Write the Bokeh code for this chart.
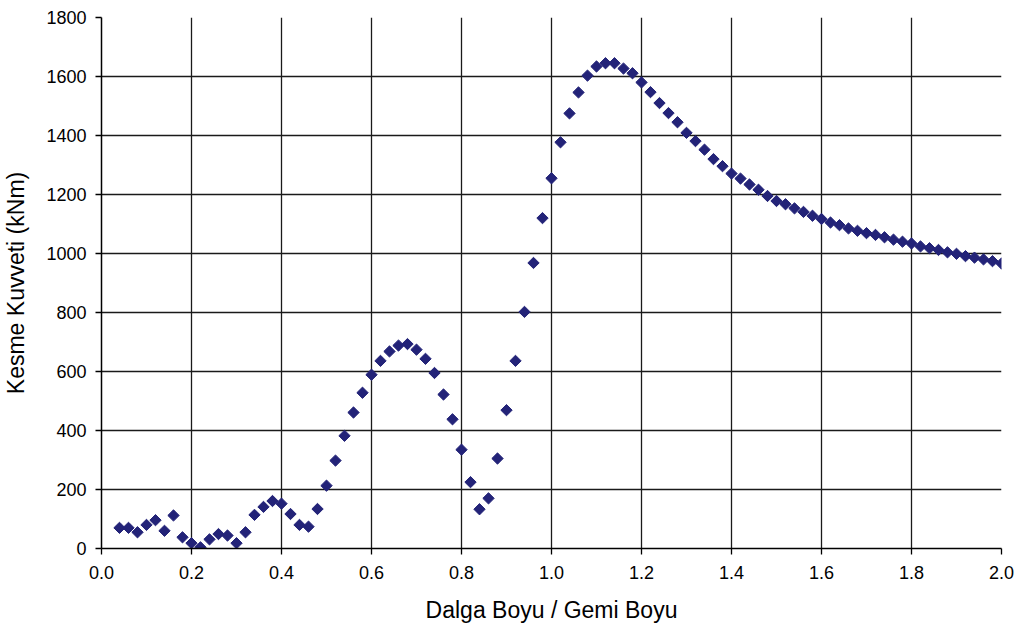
import numpy as np
from bokeh.plotting import figure
from bokeh.models import FixedTicker, PrintfTickFormatter, Range1d
from bokeh.embed import file_html
from bokeh.resources import INLINE

# Sample points (wave length / ship length)
x_ratio = np.round(np.arange(0.04, 2.0001, 0.02), 2)

# Shear force values
shear_force = [
    70, 70, 55, 80, 96, 60, 112, 38, 18, 4,
    31, 49, 44, 18, 55, 114, 141, 161, 152, 117,
    80, 74, 134, 213, 298, 382, 461, 528,
    589, 636, 668, 688, 693, 674, 643, 595, 522, 438,
    335, 225, 133, 170, 305, 469, 636, 802,
    968, 1120, 1255, 1377, 1475, 1546, 1603, 1634, 1645, 1645,
    1627, 1611, 1580, 1547, 1510, 1476, 1445, 1409, 1381, 1352,
    1320, 1296, 1271,
    1254, 1234, 1216, 1195, 1178, 1167, 1153, 1141, 1128, 1117,
    1105, 1096, 1085, 1077, 1069, 1063, 1055, 1047, 1040, 1034,
    1024, 1018, 1012, 1004, 999, 991, 986, 980, 974, 966,
]

x_ticks = [0.0, 0.2, 0.4, 0.6, 0.8, 1.0, 1.2, 1.4, 1.6, 1.8, 2.0]
y_ticks = [0, 200, 400, 600, 800, 1000, 1200, 1400, 1600, 1800]

FONT = "Liberation Sans"

p = figure(width=1025, height=632, output_backend="svg", toolbar_location=None,
           x_range=Range1d(0, 2.0), y_range=Range1d(0, 1800),
           min_border_left=101, min_border_right=24, min_border_top=17,
           min_border_bottom=84)
p.outline_line_color = None
p.background_fill_color = "white"
p.border_fill_color = "white"

p.scatter(x_ratio, shear_force, marker="square", angle=np.pi / 4, size=8,
          fill_color="#232378", line_color="#232378")

for ax in (p.xaxis[0], p.yaxis[0]):
    ax.axis_line_color = "black"
    ax.axis_line_width = 1.5
    ax.major_tick_line_color = "black"
    ax.major_tick_line_width = 1.3
    ax.major_tick_out = 6
    ax.major_tick_in = 0
    ax.minor_tick_line_color = None
    ax.major_label_text_font = FONT
    ax.major_label_text_font_size = "18px"
    ax.major_label_text_color = "black"
    ax.axis_label_text_font = FONT
    ax.axis_label_text_font_size = "23px"
    ax.axis_label_text_font_style = "normal"
    ax.axis_label_text_color = "black"

p.xaxis.ticker = FixedTicker(ticks=x_ticks)
p.xaxis.formatter = PrintfTickFormatter(format="%.1f")
p.yaxis.ticker = FixedTicker(ticks=y_ticks)
p.xaxis.axis_label = "Dalga Boyu / Gemi Boyu"
p.yaxis.axis_label = "Kesme Kuvveti (kNm)"
p.xaxis.major_label_standoff = 11
p.xaxis.axis_label_standoff = 15
p.yaxis.major_label_standoff = 9
p.yaxis.axis_label_standoff = 14

p.xgrid.ticker = FixedTicker(ticks=x_ticks)
p.ygrid.ticker = FixedTicker(ticks=y_ticks)
for g in (p.xgrid[0], p.ygrid[0]):
    g.grid_line_color = "#1a1a1a"
    g.grid_line_width = 1.3

open("out.html", "w").write(file_html(p, INLINE))
